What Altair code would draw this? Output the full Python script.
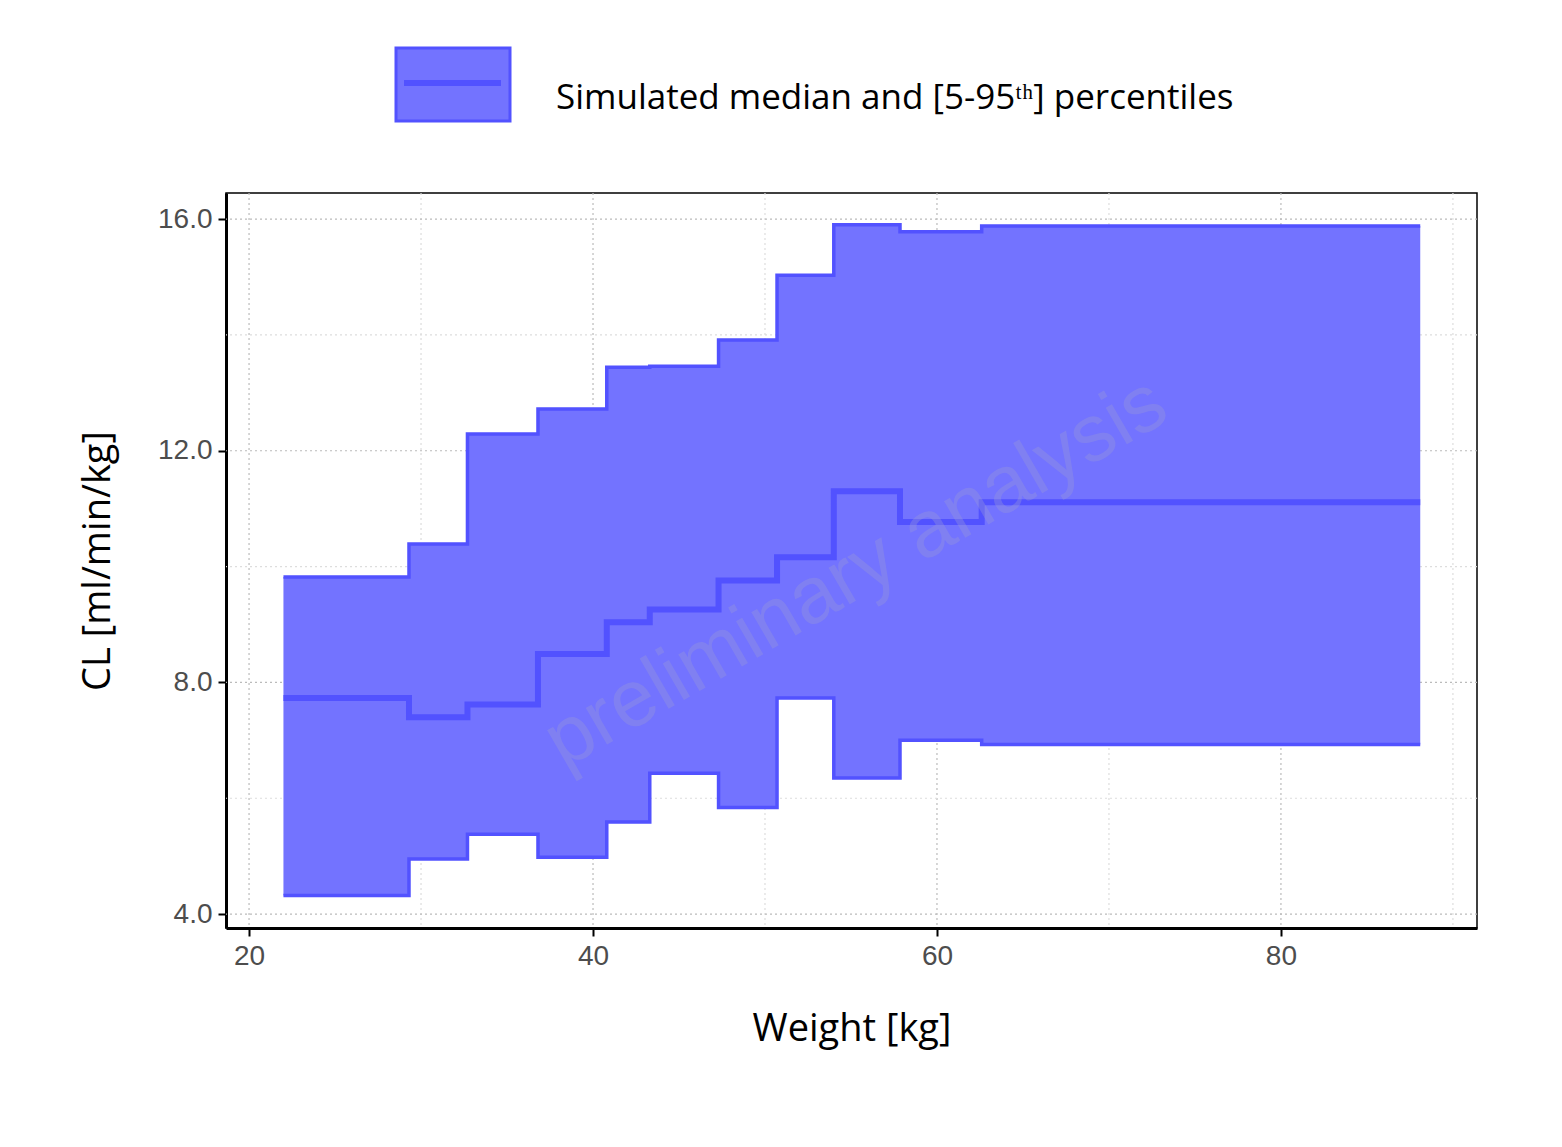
import pandas as pd
import altair as alt

# step breakpoints (kg) and values
weight = [22.0, 29.3, 32.7, 36.8, 40.8, 43.3, 47.3, 50.7, 54.0, 57.85, 62.6, 88.1]
p95 = [9.82, 10.39, 12.29, 12.72, 13.44, 13.46, 13.91, 15.03, 15.90, 15.78, 15.88]
median = [7.73, 7.40, 7.62, 8.49, 9.04, 9.26, 9.76, 10.16, 11.30, 10.77, 11.11]
p05 = [4.32, 4.95, 5.38, 4.98, 5.59, 6.43, 5.84, 7.73, 6.35, 7.00, 6.93]

major_x = [20, 40, 60, 80]
minor_x = [30, 50, 70, 90]
major_y = [4, 8, 12, 16]
minor_y = [6, 10, 14]

# repeat last value so the final step reaches the end
df = pd.DataFrame({
    "w": weight,
    "lo": p05 + [p05[-1]],
    "med": median + [median[-1]],
    "hi": p95 + [p95[-1]],
})

fill = "#7373ff"
edge = "#5252ff"
xs = alt.Scale(domain=[18.66, 91.4], nice=False, zero=False)
ys = alt.Scale(domain=[3.76, 16.45], nice=False, zero=False)

base = alt.Chart(df)
band = base.mark_area(interpolate="step-after", color=fill).encode(
    x=alt.X("w:Q", scale=xs, axis=alt.Axis(values=major_x, title="Weight [kg]")),
    y=alt.Y("lo:Q", scale=ys, axis=alt.Axis(values=major_y, title="CL [ml/min/kg]")),
    y2="hi:Q",
)
upper = base.mark_line(interpolate="step-after", color=edge, strokeWidth=3.5).encode(x=alt.X("w:Q", scale=xs), y=alt.Y("hi:Q", scale=ys))
lower = base.mark_line(interpolate="step-after", color=edge, strokeWidth=3.5).encode(x=alt.X("w:Q", scale=xs), y=alt.Y("lo:Q", scale=ys))
mid = base.mark_line(interpolate="step-after", color=edge, strokeWidth=6).encode(x=alt.X("w:Q", scale=xs), y=alt.Y("med:Q", scale=ys))

def vgrid(vals, col):
    return alt.Chart(pd.DataFrame({"v": vals})).mark_rule(color=col, strokeDash=[2, 3], strokeWidth=1.2).encode(x=alt.X("v:Q", scale=xs))

def hgrid(vals, col):
    return alt.Chart(pd.DataFrame({"v": vals})).mark_rule(color=col, strokeDash=[2, 3], strokeWidth=1.2).encode(y=alt.Y("v:Q", scale=ys))

grid = vgrid(major_x, "#bbbbbb") + vgrid(minor_x, "#dddddd") + hgrid(major_y, "#bbbbbb") + hgrid(minor_y, "#dddddd")

watermark = alt.Chart(pd.DataFrame({"t": ["preliminary analysis"]})).mark_text(
    angle=330, fontSize=80, color="#9a9ad8", opacity=0.35, font="Liberation Sans"
).encode(text="t:N", x=alt.value(630), y=alt.value(380))

# legend drawn by hand above the panel
leg_box = alt.Chart(pd.DataFrame({"a": [0]})).mark_rect(color=fill, stroke=edge, strokeWidth=3).encode(
    x=alt.value(170), x2=alt.value(284), y=alt.value(-145), y2=alt.value(-72))
leg_line = alt.Chart(pd.DataFrame({"a": [0]})).mark_rule(color=edge, strokeWidth=6).encode(
    x=alt.value(178), x2=alt.value(275), y=alt.value(-110))
leg_text = alt.Chart(pd.DataFrame({"t": ["Simulated median and [5-95ᵗʰ] percentiles"]})).mark_text(
    align="left", fontSize=35, font="Open Sans", color="black"
).encode(text="t:N", x=alt.value(330), y=alt.value(-95))

chart = alt.layer(grid, band, upper, lower, mid, watermark, leg_box, leg_line, leg_text).properties(
    width=1251, height=735,
    autosize=alt.AutoSizeParams(type="none"),
    padding={"left": 218, "top": 185, "right": 77, "bottom": 211},
).configure_view(stroke="black", strokeWidth=1.5).configure_axis(
    grid=False, domainColor="black", domainWidth=3, tickColor="black", tickWidth=2, tickSize=8,
    labelFont="Liberation Sans", labelFontSize=28, labelColor="#4d4d4d", labelPadding=6,
    titleFont="Open Sans", titleFontSize=38, titleFontWeight="normal", titleColor="black",
).configure_axisX(titlePadding=40).configure_axisY(titlePadding=40)

chart.save("out.html", embed_options={"renderer": "svg", "actions": False})
